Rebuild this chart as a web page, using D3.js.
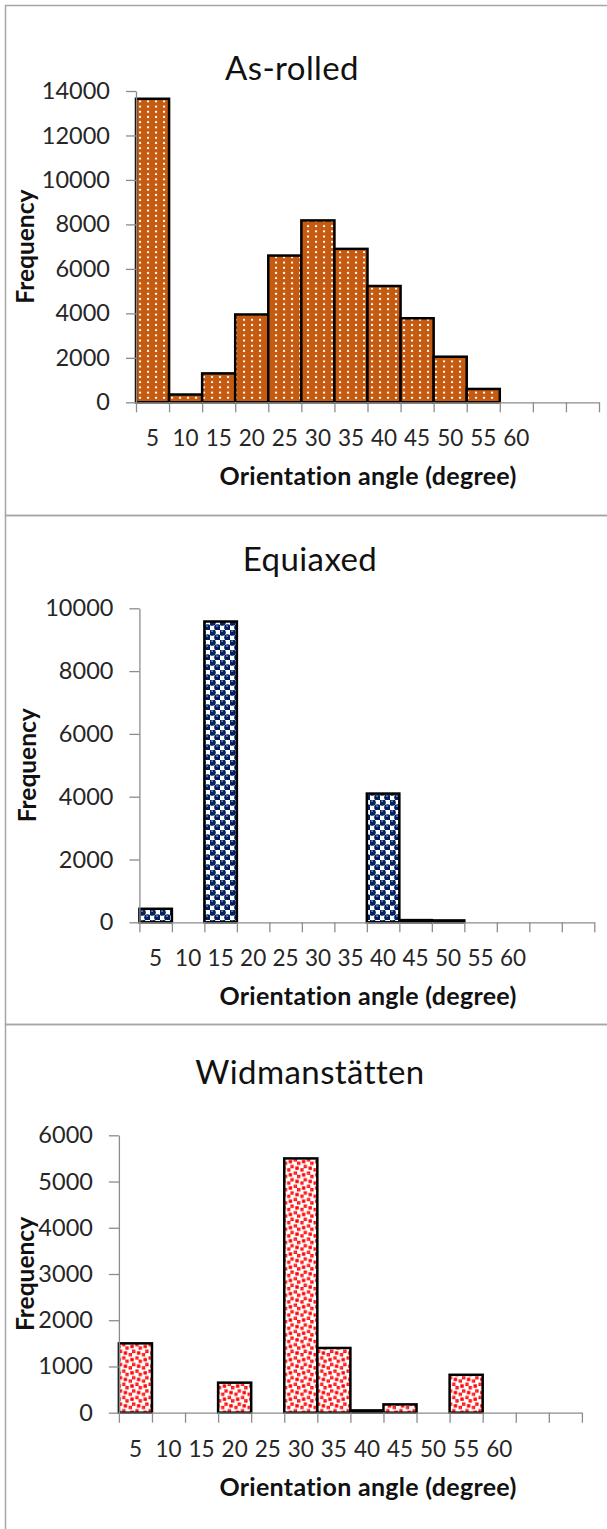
<!DOCTYPE html>
<html>
<head>
<meta charset="utf-8">
<script src="https://cdn.jsdelivr.net/npm/d3@7"></script>
<style>
  html, body { margin: 0; padding: 0; background: #fff; }
  svg { display: block; }
  text { font-family: Lato, "Open Sans", sans-serif; }
</style>
</head>
<body>
<svg id="chart" width="607" height="1529"></svg>
<script>
// Orientation-angle bins (degrees) and their axis labels
const bins = d3.range(14);
const binLabels = ["5", "10", "15", "20", "25", "30", "35", "40", "45", "50", "55", "60", "", ""];

// Frequency per bin for each microstructure
const asRolled      = [13650, 350, 1300, 3950, 6600, 8180, 6900, 5230, 3780, 2050, 600, 0, 0, 0];
const equiaxed      = [430, 0, 9580, 0, 0, 0, 0, 4100, 70, 60, 0, 0, 0, 0];
const widmanstatten = [1500, 0, 0, 650, 0, 5500, 1400, 50, 180, 0, 820, 0, 0, 0];

// Y-axis ticks
const ticksAsRolled = [0, 2000, 4000, 6000, 8000, 10000, 12000, 14000];
const ticksEquiaxed = [0, 2000, 4000, 6000, 8000, 10000];
const ticksWidman   = [0, 1000, 2000, 3000, 4000, 5000, 6000];

const titles = ["As-rolled", "Equiaxed", "Widmanstätten"];
const xTitle = "Orientation angle (degree)";
const yTitle = "Frequency";

const svg = d3.select("#chart");
const defs = svg.append("defs");

// --- fill patterns ---------------------------------------------------------
// small white dots on burnt orange
const pDots = defs.append("pattern").attr("id", "dots")
  .attr("patternUnits", "userSpaceOnUse").attr("width", 8).attr("height", 5.2);
pDots.append("rect").attr("width", 8).attr("height", 5.2).attr("fill", "#C55A11");
pDots.append("rect").attr("x", 3).attr("y", 1.6).attr("width", 2.1).attr("height", 1.9)
  .attr("fill", "#ffffff");

// navy "sphere" checker
const sp = 10;
const pSphere = defs.append("pattern").attr("id", "spheres")
  .attr("patternUnits", "userSpaceOnUse").attr("width", sp).attr("height", sp);
pSphere.append("rect").attr("width", sp).attr("height", sp).attr("fill", "#ffffff");
[[sp / 4, sp / 4], [3 * sp / 4, 3 * sp / 4]].forEach(([cx, cy]) => {
  pSphere.append("rect").attr("x", cx - sp / 4).attr("y", cy - sp / 4)
    .attr("width", sp / 2).attr("height", sp / 2).attr("fill", "#002060");
  pSphere.append("circle").attr("cx", cx).attr("cy", cy).attr("r", sp * 0.33).attr("fill", "#002060");
  pSphere.append("rect").attr("x", cx - 1.4).attr("y", cy - 1.9).attr("width", 2).attr("height", 1)
    .attr("fill", "#9fb0cf");
});

// red large confetti
const confettiRows = [0x8D, 0x0C, 0xC0, 0xD8, 0x1B, 0x03, 0x30, 0xB1];
const cb = 1.65;
const pConf = defs.append("pattern").attr("id", "confetti")
  .attr("patternUnits", "userSpaceOnUse").attr("width", 8 * cb).attr("height", 8 * cb);
pConf.append("rect").attr("width", 8 * cb).attr("height", 8 * cb).attr("fill", "#ffffff");
confettiRows.forEach((bits, r) => {
  for (let c = 0; c < 8; c++) {
    if (bits & (0x80 >> c)) {
      pConf.append("rect").attr("x", c * cb).attr("y", r * cb)
        .attr("width", cb + 0.05).attr("height", cb + 0.05).attr("fill", "#FF0000");
    }
  }
});

// --- panel frames ----------------------------------------------------------
const frames = [[5.5, 5.5, 515.5], [5.5, 515.5, 1024.5], [5.5, 1024.5, 1532]];
frames.forEach(([x, y0, y1]) => {
  svg.append("rect").attr("x", x).attr("y", y0).attr("width", 607 - x + 2).attr("height", y1 - y0)
    .attr("fill", "none").attr("stroke", "#a6a6a6").attr("stroke-width", 1.5);
});

// --- panels ----------------------------------------------------------------
const panels = [
  { values: asRolled, ticks: ticksAsRolled, fill: "url(#dots)", title: titles[0],
    x0: 136, x1: 599, top: 91, base: 402.3, titleX: 292, titleY: 79.5, yLabX: 34 },
  { values: equiaxed, ticks: ticksEquiaxed, fill: "url(#spheres)", title: titles[1],
    x0: 139.4, x1: 594.3, top: 608.3, base: 922.3, titleX: 310, titleY: 571, yLabX: 36 },
  { values: widmanstatten, ticks: ticksWidman, fill: "url(#confetti)", title: titles[2],
    x0: 118.9, x1: 581.9, top: 1135.3, base: 1412.7, titleX: 310, titleY: 1084, yLabX: 34 }
];

panels.forEach(p => {
  const g = svg.append("g");
  const x = d3.scaleBand().domain(bins).range([p.x0, p.x1]).padding(0);
  const xb = d3.scaleLinear().domain([0, bins.length]).range([p.x0, p.x1]);
  const y = d3.scaleLinear().domain([0, d3.max(p.ticks)]).range([p.base, p.top]);

  // bars
  g.selectAll("rect.bar")
    .data(bins.filter(i => p.values[i] > 0))
    .join("rect")
    .attr("class", "bar")
    .attr("x", i => x(i))
    .attr("y", i => y(p.values[i]))
    .attr("width", x.bandwidth())
    .attr("height", i => y(0) - y(p.values[i]))
    .attr("fill", p.fill)
    .attr("stroke", "#000")
    .attr("stroke-width", 2.5);

  // y axis
  const ya = g.append("g").attr("transform", `translate(${p.x0},0)`)
    .call(d3.axisLeft(y).tickValues(p.ticks).tickSize(10).tickSizeOuter(0).tickPadding(16).tickFormat(d3.format("d")));
  ya.select(".domain").attr("stroke", "#8c8c8c").attr("stroke-width", 1.3);
  ya.selectAll(".tick line").attr("stroke", "#8c8c8c").attr("stroke-width", 1.3);
  ya.selectAll(".tick text").attr("font-size", 23.5).attr("fill", "#262626")
    .attr("font-family", "Lato, sans-serif");

  // x axis: boundary ticks
  const xa = g.append("g").attr("transform", `translate(0,${p.base})`)
    .call(d3.axisBottom(xb).tickValues(d3.range(bins.length + 1)).tickSize(10).tickSizeOuter(0).tickFormat(""));
  xa.select(".domain").attr("stroke", "#8c8c8c").attr("stroke-width", 1.3);
  xa.selectAll(".tick line").attr("stroke", "#8c8c8c").attr("stroke-width", 1.3);

  // x axis: category labels
  const xl = g.append("g").attr("transform", `translate(0,${p.base})`)
    .call(d3.axisBottom(x).tickSize(0).tickPadding(28).tickFormat(i => binLabels[i]));
  xl.select(".domain").remove();
  xl.selectAll(".tick text").attr("font-size", 22.5).attr("fill", "#262626")
    .attr("font-family", "Lato, sans-serif");

  // chart title
  g.append("text").attr("x", p.titleX).attr("y", p.titleY)
    .attr("text-anchor", "middle").attr("font-size", 33).attr("fill", "#111")
    .attr("letter-spacing", 0.4)
    .text(p.title);

  // axis titles
  g.append("text").attr("x", 368).attr("y", p.base + 83)
    .attr("text-anchor", "middle").attr("font-size", 25).attr("font-weight", "bold").attr("fill", "#111")
    .attr("letter-spacing", 0.3)
    .text(xTitle);
  g.append("text")
    .attr("transform", `translate(${p.yLabX},${(p.top + p.base) / 2}) rotate(-90)`)
    .attr("text-anchor", "middle").attr("font-size", 24.5).attr("font-weight", "bold").attr("fill", "#111")
    .text(yTitle);
});
</script>
</body>
</html>
